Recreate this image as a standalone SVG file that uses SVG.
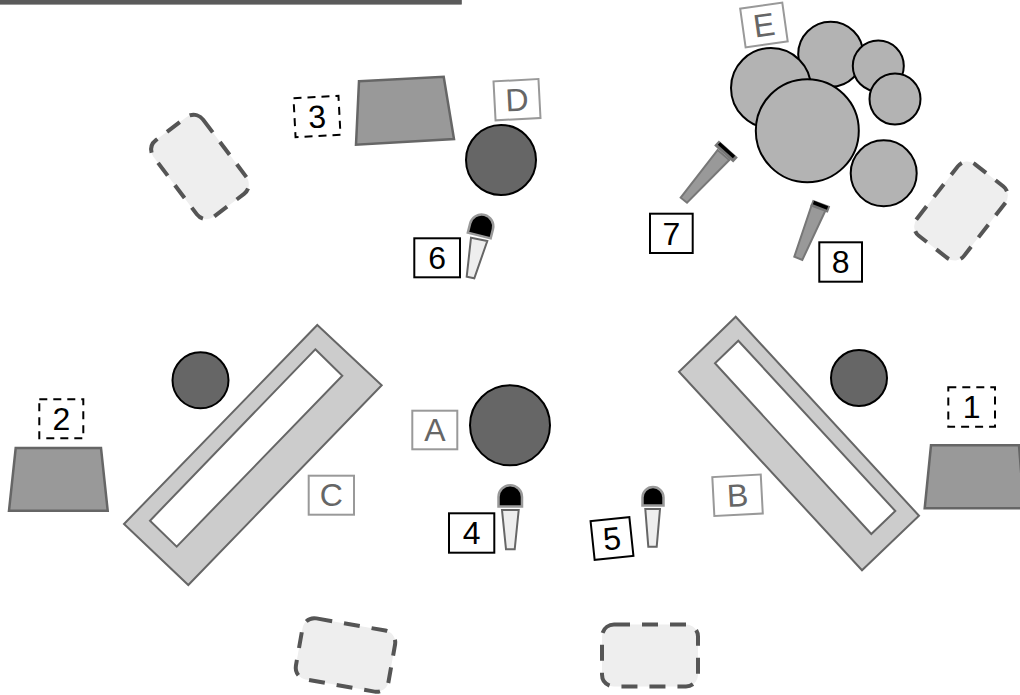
<svg xmlns="http://www.w3.org/2000/svg" width="1020" height="695" viewBox="0 0 1020 695">
<style>
text{font-family:"Liberation Sans",Arial,sans-serif;font-size:32px;text-anchor:middle}
.lb rect{fill:#fff;stroke:#000;stroke-width:2}
.lb text{fill:#000}
.ld rect{fill:#fff;stroke:#000;stroke-width:2;stroke-dasharray:8 6}
.ld text{fill:#000}
.lg rect{fill:#fff;stroke:#999;stroke-width:2}
.lg text{fill:#666}
.spk{fill:#999;stroke:#666;stroke-width:2.5;stroke-linejoin:miter}
.stage{fill:#ccc;stroke:#666;stroke-width:2}
.hole{fill:#fff;stroke:#666;stroke-width:2}
.dark{fill:#666;stroke:#000;stroke-width:2}
.drum{fill:#b3b3b3;stroke:#000;stroke-width:2}
.seatf{fill:#eee}
.seat{fill:none;stroke:#555;stroke-width:4;stroke-dasharray:16 12}
.head{fill:#000;stroke:#999;stroke-width:2.5}
.body{fill:#eee;stroke:#666;stroke-width:2}
.cbody{fill:#999;stroke:#777;stroke-width:2}
.cap{stroke:#777;stroke-width:7;fill:none}
.capi{stroke:#000;stroke-width:3.5;fill:none}
</style>
<rect x="-2" y="-2" width="463.7" height="7" fill="#999"/>
<rect x="-2" y="-2" width="463.7" height="6" fill="#5a5a5a"/>
<g id="seat-top-left"><rect class="seatf" x="152" y="136" width="96" height="62" rx="12" transform="rotate(53 200 167)"/><rect class="seat" x="152" y="136" width="96" height="62" rx="12" transform="rotate(53 200 167)"/></g>
<g id="seat-top-right"><rect class="seatf" x="915.500" y="181" width="91" height="60" rx="12" transform="rotate(-52 961 211)"/><rect class="seat" x="915.500" y="181" width="91" height="60" rx="12" transform="rotate(-52 961 211)"/></g>
<g id="seat-bottom-left"><rect class="seatf" x="298.500" y="624" width="94" height="62" rx="12" transform="rotate(10 345.500 655)"/><rect class="seat" x="298.500" y="624" width="94" height="62" rx="12" transform="rotate(10 345.500 655)"/></g>
<g id="seat-bottom-right"><rect class="seatf" x="602" y="624.500" width="96" height="62" rx="12"/><rect class="seat" x="602" y="624.500" width="96" height="62" rx="12"/></g>
<g id="stage-c"><polygon class="stage" points="317.300,325 381.700,385.300 188.300,585 124,524"/><polygon class="hole" points="315.300,349.300 342.300,375.700 176.700,546.700 150,520.700"/></g>
<g id="stage-b"><polygon class="stage" points="735.700,316.700 919,515.700 862,570.300 679,371.700"/><polygon class="hole" points="738.300,340.700 895.300,511 871.300,534 715,363.300"/></g>
<g id="speaker-3"><polygon class="spk" points="359,81.300 443.700,76.700 454,139 356,144.700"/></g>
<g id="speaker-2"><polygon class="spk" points="15.700,448 101,448 107.700,510.700 9,510.700"/></g>
<g id="speaker-1"><polygon class="spk" points="931,445.300 1019,445.300 1024,508.300 924.700,508.300"/></g>
<g id="circle-c"><circle class="dark" cx="200.500" cy="380.300" r="28"/></g>
<g id="circle-b"><circle class="dark" cx="859" cy="378" r="28"/></g>
<g id="circle-a"><circle class="dark" cx="510" cy="425.300" r="40"/></g>
<g id="circle-d"><circle class="dark" cx="501" cy="160" r="35"/></g>
<g id="drums">
<circle class="drum" cx="830.700" cy="54.300" r="32.500"/>
<circle class="drum" cx="771" cy="88" r="40"/>
<circle class="drum" cx="878.300" cy="66" r="25.500"/>
<circle class="drum" cx="895" cy="99" r="25.500"/>
<circle class="drum" cx="883.700" cy="173.300" r="33"/>
<circle class="drum" cx="807.300" cy="130.700" r="51.500"/>
</g>
<g id="mic-4"><path class="head" d="M498.500,506.500 V497 A11.700,11.700 0 0 1 522,497 V506.500 Z"/><polygon class="body" points="502,510 518.700,510 514.700,549.300 506,549.300"/></g>
<g id="mic-5"><path class="head" d="M642.500,505.500 V497.500 A10.500,10.500 0 0 1 663.500,497.500 V505.500 Z"/><polygon class="body" points="645.300,509 660,509 656.700,546.700 648.300,546.700"/></g>
<g id="mic-6"><path class="head" transform="rotate(14 479.200 235.500)" d="M467.500,235.500 V226 A11.700,11.700 0 0 1 491,226 V235.500 Z"/><polygon class="body" points="471,237.700 487.300,241 474.300,278.300 466.700,276.700"/></g>
<g id="mic-7"><polygon class="cbody" points="717.700,150 729.300,160 687,202.700 680.700,197.700"/><line class="cap" x1="716.500" y1="143" x2="735.500" y2="160"/><line class="capi" x1="719" y1="143.500" x2="734" y2="157"/></g>
<g id="mic-8"><polygon class="cbody" points="811.700,205 825.700,210 802.300,260 794.300,256.700"/><line class="cap" x1="811.500" y1="203" x2="829" y2="209.500"/><line class="capi" x1="813.500" y1="202.500" x2="827.500" y2="208"/></g>
<g id="label-1" class="ld"><rect x="948.300" y="387.300" width="46.700" height="39.400"/><text x="971.700" y="418">1</text></g>
<g id="label-2" class="ld"><rect x="39.300" y="399.300" width="44" height="39"/><text x="61.300" y="430">2</text></g>
<g id="label-3" class="ld" transform="rotate(-3 317 116.500)"><rect x="294.500" y="97" width="45" height="39"/><text x="317" y="127.700">3</text></g>
<g id="label-4" class="lb"><rect x="449" y="513.300" width="45.300" height="39.400"/><text x="471.700" y="544">4</text></g>
<g id="label-5" class="lb" transform="rotate(-6 612 538.500)"><rect x="592.500" y="519" width="39" height="39"/><text x="612" y="549.700">5</text></g>
<g id="label-6" class="lb"><rect x="414.300" y="238.300" width="45.700" height="39"/><text x="437.200" y="269">6</text></g>
<g id="label-7" class="lb"><rect x="650" y="213.700" width="42.700" height="39.300"/><text x="671.300" y="244.500">7</text></g>
<g id="label-8" class="lb"><rect x="819.300" y="242.300" width="42.700" height="39.400"/><text x="840.700" y="273.100">8</text></g>
<g id="label-a" class="lg"><rect x="412.300" y="410.700" width="45" height="38.600"/><text x="434.800" y="441">A</text></g>
<g id="label-b" class="lg" transform="rotate(-3 737.500 495.300)"><rect x="713.300" y="475.800" width="48.500" height="39"/><text x="737.500" y="506.500">B</text></g>
<g id="label-c" class="lg"><rect x="308.700" y="475.700" width="45.300" height="39"/><text x="331.300" y="506.400">C</text></g>
<g id="label-d" class="lg" transform="rotate(-3 517 99.700)"><rect x="494.500" y="80.200" width="45" height="39"/><text x="517" y="110.900">D</text></g>
<g id="label-e" class="lg" transform="rotate(-8 764 25)"><rect x="742.700" y="5.500" width="42.500" height="39"/><text x="764" y="36.200">E</text></g>
</svg>
